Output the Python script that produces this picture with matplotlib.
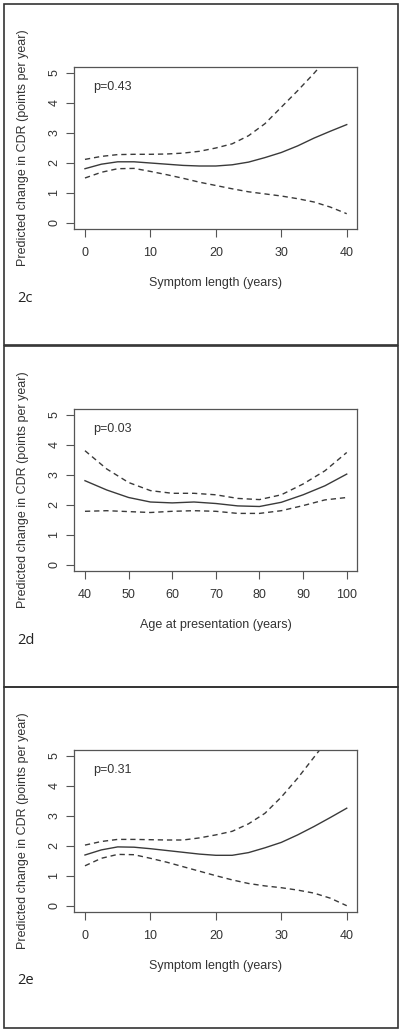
import matplotlib
matplotlib.use("Agg")
import matplotlib.pyplot as plt
from matplotlib.patches import Rectangle

# panel 2c: symptom length
sym_x = [0, 2.5, 5, 7.5, 10, 12.5, 15, 17.5, 20, 22.5, 25, 27.5, 30, 32.5, 35, 37.5, 40]
c_fit = [1.80, 1.95, 2.03, 2.03, 1.99, 1.95, 1.91, 1.89, 1.89, 1.93, 2.02, 2.17, 2.34, 2.56, 2.82, 3.05, 3.27]
c_upper = [2.11, 2.21, 2.27, 2.28, 2.28, 2.29, 2.32, 2.38, 2.49, 2.63, 2.90, 3.30, 3.85, 4.40, 4.98, 5.60, 6.20]
c_lower = [1.49, 1.68, 1.80, 1.81, 1.71, 1.60, 1.48, 1.35, 1.24, 1.13, 1.03, 0.96, 0.89, 0.80, 0.69, 0.52, 0.30]

# panel 2d: age at presentation
age_x = [40, 45, 50, 55, 60, 65, 70, 75, 80, 85, 90, 95, 100]
d_fit = [2.80, 2.49, 2.24, 2.09, 2.06, 2.09, 2.04, 1.96, 1.94, 2.08, 2.33, 2.63, 3.02]
d_upper = [3.80, 3.19, 2.74, 2.47, 2.38, 2.38, 2.33, 2.21, 2.17, 2.33, 2.69, 3.13, 3.74]
d_lower = [1.78, 1.80, 1.77, 1.74, 1.78, 1.80, 1.78, 1.71, 1.71, 1.80, 1.97, 2.16, 2.24]

# panel 2e: symptom length
e_fit = [1.69, 1.86, 1.96, 1.95, 1.90, 1.84, 1.78, 1.72, 1.68, 1.68, 1.77, 1.93, 2.11, 2.36, 2.64, 2.94, 3.25]
e_upper = [2.02, 2.14, 2.21, 2.21, 2.20, 2.19, 2.19, 2.26, 2.36, 2.48, 2.73, 3.08, 3.62, 4.25, 4.95, 5.65, 6.40]
e_lower = [1.33, 1.58, 1.71, 1.70, 1.58, 1.45, 1.30, 1.15, 1.00, 0.86, 0.74, 0.66, 0.60, 0.52, 0.42, 0.25, 0.00]

panels = [
    dict(x=sym_x, fit=c_fit, up=c_upper, lo=c_lower, xticks=[0, 10, 20, 30, 40],
         xlabel='Symptom length (years)', p='p=0.43', tag='2c', top=4),
    dict(x=age_x, fit=d_fit, up=d_upper, lo=d_lower, xticks=[40, 50, 60, 70, 80, 90, 100],
         xlabel='Age at presentation (years)', p='p=0.03', tag='2d', top=346),
    dict(x=sym_x, fit=e_fit, up=e_upper, lo=e_lower, xticks=[0, 10, 20, 30, 40],
         xlabel='Symptom length (years)', p='p=0.31', tag='2e', top=687),
]

W, H = 402, 1033
plt.rcParams['font.family'] = ['Liberation Sans', 'DejaVu Sans']
fig = plt.figure(figsize=(W / 100, H / 100), dpi=100)

line_col = '#3a3a3a'
axis_col = '#555555'
text_col = '#333333'

for pan in panels:
    t = pan['top']
    # outer border of the panel
    fig.patches.append(Rectangle((4 / W, 1 - (t + 341) / H), 394 / W, 341 / H,
                                 transform=fig.transFigure, fill=False,
                                 edgecolor='#333333', linewidth=1.2))
    ax_top = t + 62.7
    ax_h = 162.0
    ax = fig.add_axes([74.5 / W, 1 - (ax_top + ax_h) / H, 282.7 / W, ax_h / H])
    xs = pan['x']
    span = xs[-1] - xs[0]
    ax.set_xlim(xs[0] - 0.04 * span, xs[-1] + 0.04 * span)
    ax.set_ylim(-0.2, 5.2)

    ax.plot(xs, pan['fit'], color=line_col, linewidth=1.0)
    ax.plot(xs, pan['up'], color=line_col, linewidth=1.0, dashes=(3.8, 2.8))
    ax.plot(xs, pan['lo'], color=line_col, linewidth=1.0, dashes=(3.8, 2.8))

    ax.set_xticks(pan['xticks'])
    ax.set_yticks([0, 1, 2, 3, 4, 5])
    ax.tick_params(direction='out', length=5.8, width=0.8, color=axis_col,
                   labelsize=9, labelcolor=text_col)
    ax.tick_params(axis='x', pad=7.5)
    ax.tick_params(axis='y', pad=4.5)
    for lab in ax.get_yticklabels():
        lab.set_rotation(90)
        lab.set_va('center')
    for sp in ax.spines.values():
        sp.set_color(axis_col)
        sp.set_linewidth(0.9)

    ax.text(0.065, 0.875, pan['p'], transform=ax.transAxes, fontsize=9,
            color=text_col, ha='left', va='center')

    cx = (74.5 + 282.7 / 2) / W
    fig.text(cx, 1 - (t + 279) / H, pan['xlabel'], fontsize=9, color=text_col,
             ha='center', va='center')
    fig.text(23 / W, 1 - (ax_top + ax_h / 2) / H,
             'Predicted change in CDR (points per year)', fontsize=9,
             color=text_col, rotation=90, ha='center', va='center')
    fig.text(17 / W, 1 - (t + 294) / H, pan['tag'], fontsize=10.5,
             family=['Open Sans', 'DejaVu Sans'], color='#222222',
             ha='left', va='center')

fig.savefig('out.png', dpi=100)
